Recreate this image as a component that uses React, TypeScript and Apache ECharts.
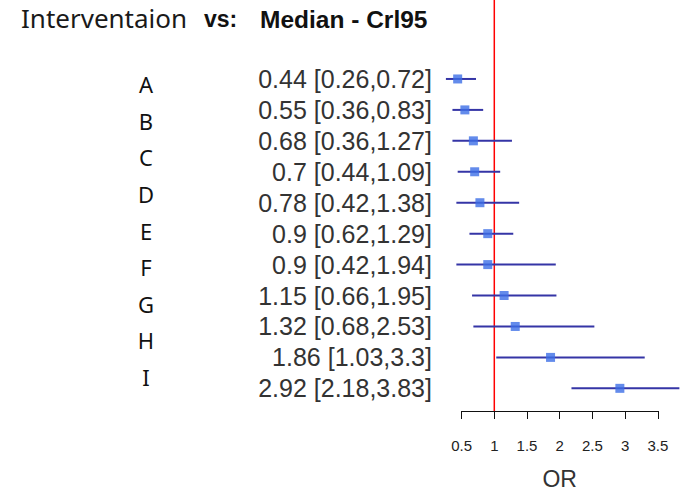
import React, { useEffect, useRef } from "react";
import * as echarts from "echarts";

const estimates = [0.44, 0.55, 0.68, 0.7, 0.78, 0.9, 0.9, 1.15, 1.32, 1.86, 2.92];
const lower = [0.26, 0.36, 0.36, 0.44, 0.42, 0.62, 0.42, 0.66, 0.68, 1.03, 2.18];
const upper = [0.72, 0.83, 1.27, 1.09, 1.38, 1.29, 1.94, 1.95, 2.53, 3.3, 3.83];
const letters = ["A", "B", "C", "D", "E", "F", "G", "H", "I"];
const xTicks = [0.5, 1, 1.5, 2, 2.5, 3, 3.5];
const refValue = 1;

export default function App() {
  const ref = useRef<HTMLDivElement>(null);
  useEffect(() => {
    document.body.style.margin = "0";
    const chart = echarts.init(ref.current!, null, { renderer: "svg" });
    const rowLabels = estimates.map((e, i) => `${e} [${lower[i]},${upper[i]}]`);
    const pxPerUnit = 65.4;
    const axisLeft = 461.6;
    const plotMin = 0.2;
    const plotMax = 3.85;
    const plotLeft = axisLeft - (0.5 - plotMin) * pxPerUnit;
    const plotWidth = (plotMax - plotMin) * pxPerUnit;
    const option: any = {
      animation: false,
      title: [
        {
          left: 16,
          top: 0,
          text: "Interventaion",
          textStyle: { fontFamily: "Noto Sans", fontSize: 26, fontWeight: "normal", color: "#1a1a1a" },
        },
        {
          left: 199,
          top: 2,
          text: "vs:",
          textStyle: { fontFamily: "Liberation Sans", fontSize: 23, fontWeight: "bold", color: "#111" },
        },
        {
          left: 255,
          top: 2,
          text: "Median - Crl95",
          textStyle: { fontFamily: "Liberation Sans", fontSize: 24.5, fontWeight: "bold", color: "#111" },
        },
      ],
      grid: [
        { left: plotLeft, top: 63.5, width: plotWidth, height: 340.3 },
        { left: axisLeft, top: 0, width: 3 * pxPerUnit, height: 418 },
        { left: 160, top: 66, width: 10, height: 329 },
      ],
      xAxis: [
        { gridIndex: 0, type: "value", min: plotMin, max: plotMax, show: false },
        {
          gridIndex: 1,
          type: "value",
          min: 0.5,
          max: 3.5,
          interval: 0.5,
          splitLine: { show: false },
          axisLine: { show: true, lineStyle: { color: "#111", width: 1 } },
          axisTick: { show: true, length: 8, lineStyle: { color: "#111", width: 1 } },
          axisLabel: {
            color: "#222",
            fontFamily: "Liberation Sans",
            fontSize: 15,
            margin: 27,
            formatter: (v: number) => (xTicks.includes(v) ? String(v) : ""),
          },
          name: "OR",
          nameLocation: "middle",
          nameGap: 56,
          nameTextStyle: { color: "#333", fontFamily: "Liberation Sans", fontSize: 23 },
        },
        { gridIndex: 2, type: "value", show: false },
      ],
      yAxis: [
        {
          gridIndex: 0,
          type: "category",
          inverse: true,
          data: rowLabels,
          axisLine: { show: false },
          axisTick: { show: false },
          splitLine: { show: false },
          axisLabel: {
            interval: 0,
            color: "#333",
            fontFamily: "Liberation Sans",
            fontSize: 25,
            margin: 10,
          },
        },
        { gridIndex: 1, type: "value", min: 0, max: 1, show: false },
        {
          gridIndex: 2,
          type: "category",
          inverse: true,
          data: letters,
          axisLine: { show: false },
          axisTick: { show: false },
          splitLine: { show: false },
          axisLabel: {
            interval: 0,
            color: "#111",
            fontFamily: "Noto Sans",
            fontSize: 22,
            align: "center",
            margin: 14,
          },
        },
      ],
      series: [
        {
          type: "custom",
          xAxisIndex: 0,
          yAxisIndex: 0,
          data: estimates.map((_, i) => [lower[i], upper[i], i]),
          encode: { x: [0, 1], y: 2 },
          renderItem: (params: any, api: any) => {
            const a = api.coord([api.value(0), api.value(2)]);
            const b = api.coord([api.value(1), api.value(2)]);
            return {
              type: "line",
              shape: { x1: a[0], y1: a[1], x2: b[0], y2: b[1] },
              style: { stroke: "#3535a6", lineWidth: 2 },
            };
          },
          z: 2,
        },
        {
          type: "scatter",
          xAxisIndex: 0,
          yAxisIndex: 0,
          data: estimates.map((e, i) => [e, i]),
          symbol: "rect",
          symbolSize: 9,
          itemStyle: { color: "#3c6ee6" },
          z: 3,
        },
        {
          type: "line",
          xAxisIndex: 1,
          yAxisIndex: 1,
          data: [
            [refValue, 0],
            [refValue, 1],
          ],
          symbol: "none",
          lineStyle: { color: "#ff0000", width: 1.5 },
          z: 1,
        },
      ],
    };
    chart.setOption(option);
    return () => chart.dispose();
  }, []);
  return <div ref={ref} style={{ width: 685, height: 495 }} />;
}
